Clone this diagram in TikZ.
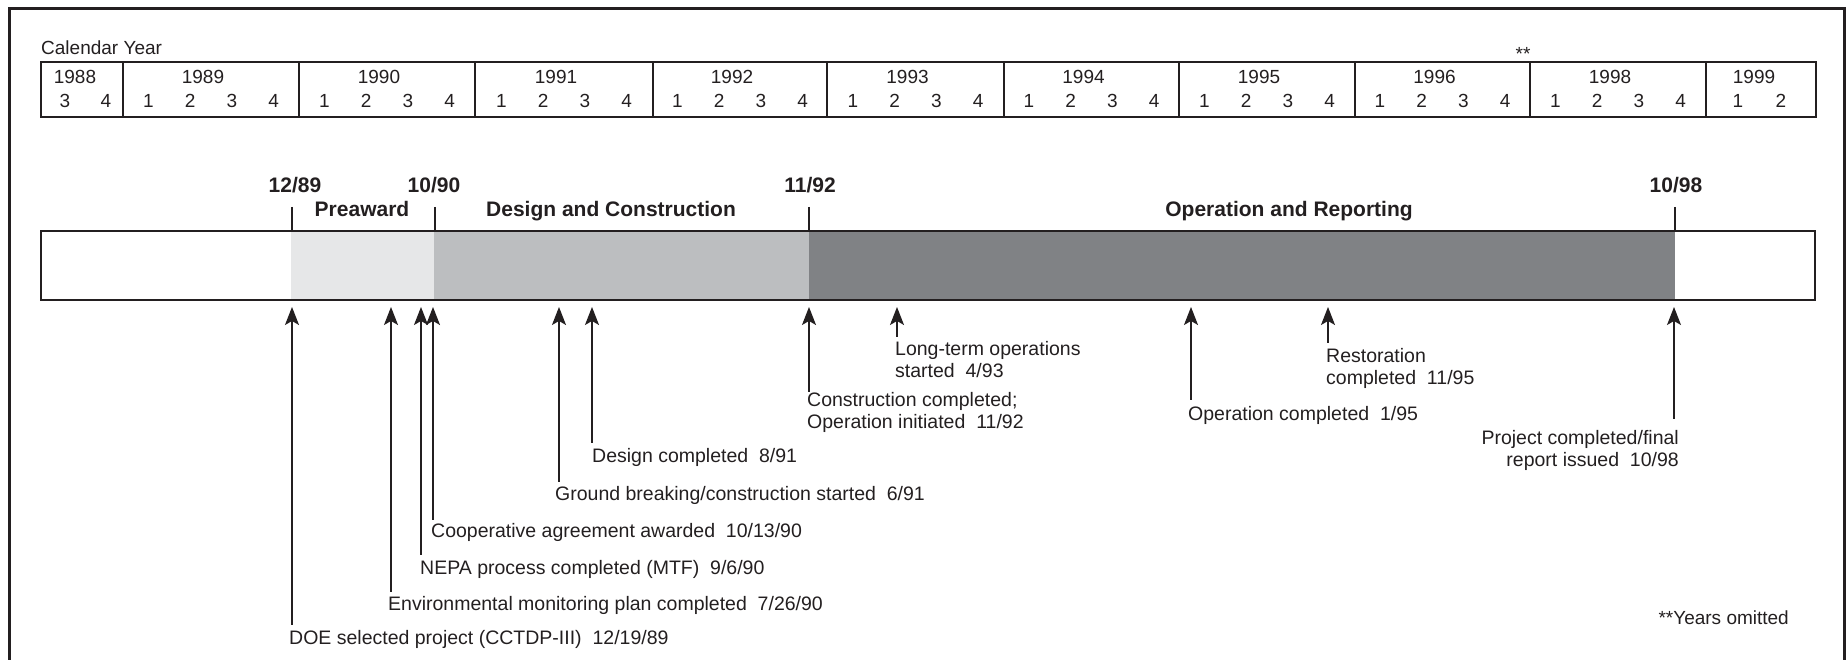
\documentclass[tikz,border=0pt]{standalone}
\usepackage{fontspec}
\setmainfont{Liberation Sans}
\usetikzlibrary{arrows.meta}

\definecolor{ink}{HTML}{231F20}
\definecolor{phaseA}{HTML}{E6E7E8}
\definecolor{phaseB}{HTML}{BCBEC0}
\definecolor{phaseC}{HTML}{808285}

\tikzset{
  txt/.style={inner sep=0pt, text=ink, font=\fontsize{19}{21.5}\selectfont},
  evtxt/.style={inner sep=0pt, text=ink, font=\fontsize{19.5}{21.5}\selectfont},
  boldlbl/.style={inner sep=0pt, text=ink, font=\fontsize{21}{24}\selectfont\bfseries, anchor=base},
  gridline/.style={draw=ink, line width=1.4pt},
  tickline/.style={draw=ink, line width=1.2pt},
  evarrow/.style={draw=ink, line width=1.2pt, {Stealth[length=18pt,width=14pt,inset=4pt]}-},
}

\begin{document}
\begin{tikzpicture}[x=1pt,y=-1pt]
\useasboundingbox (0,0) rectangle (1847,660);

% outer frame (bottom edge lies below the page)
\draw[ink, line width=3pt] (9,9) rectangle (1844,690);

% ---------------- calendar strip ----------------
\node[txt, anchor=base west] (cal) at (41,55) {Calendar Year};
\node[txt, anchor=base] (omit) at (1523,61) {**};

\draw[gridline] (41,62) rectangle (1816,117);
\foreach \x in {123,299,475,653,827,1004,1179,1355,1530,1706}
  \draw[gridline] (\x,62) -- (\x,117);

% year headings and quarters
\node[txt, anchor=base] (y1988) at (75,84) {1988};
\foreach \yr/\cx in {1989/211,1990/387,1991/564,1992/740,1993/915.5,1994/1091.5,1995/1267,1996/1442.5,1998/1618}{
  \node[txt, anchor=base] (y\yr) at (\cx-8,84) {\yr};
  \foreach \q in {1,2,3,4}
    \node[txt, anchor=base] (q\yr-\q) at ({\cx+41.7*(\q-2.5)},108) {\q};
}
\node[txt, anchor=base] (y1999) at (1754,84) {1999};
\node[txt, anchor=base] (q1988-3) at (65,108) {3};
\node[txt, anchor=base] (q1988-4) at (106,108) {4};
\node[txt, anchor=base] (q1999-1) at (1738,108) {1};
\node[txt, anchor=base] (q1999-2) at (1781,108) {2};

% ---------------- phase bar ----------------
\fill[phaseA] (291,231) rectangle (434,300);
\fill[phaseB] (434,231) rectangle (809,300);
\fill[phaseC] (809,231) rectangle (1675,300);
\draw[ink, line width=2.5pt] (41,231) rectangle (1815,300);

\node[boldlbl] (d1) at (295,192.5) {12/89};
\node[boldlbl] (d2) at (434,192.5) {10/90};
\node[boldlbl] (d3) at (810,192.5) {11/92};
\node[boldlbl] (d4) at (1676,192.5) {10/98};

\node[boldlbl] (p1) at (362,216.5) {Preaward};
\node[boldlbl] (p2) at (611,216.5) {Design and Construction};
\node[boldlbl] (p3) at (1289,216.5) {Operation and Reporting};

\foreach \i/\x in {1/292,2/435,3/809,4/1675}{
  \coordinate (m\i a) at (\x,207);
  \coordinate (m\i b) at (\x,231);
  \draw[tickline] (m\i a) -- (m\i b);
}

% ---------------- milestones ----------------
\node[evtxt, anchor=base west] (e1) at (289,644) {DOE selected project (CCTDP-III)~~12/19/89};
\node[evtxt, anchor=base west] (e2) at (388,610) {Environmental monitoring plan completed~~7/26/90};
\node[evtxt, anchor=base west] (e3) at (420,574) {NEPA process completed (MTF)~~9/6/90};
\node[evtxt, anchor=base west] (e4) at (431,537) {Cooperative agreement awarded~~10/13/90};
\node[evtxt, anchor=base west] (e5) at (555,500) {Ground breaking/construction started~~6/91};
\node[evtxt, anchor=base west] (e6) at (592,462) {Design completed~~8/91};
\node[evtxt, anchor=base west, align=left] (e7) at (807,428) {Construction completed;\\Operation initiated~~11/92};
\node[evtxt, anchor=base west, align=left] (e8) at (895,377) {Long-term operations\\started~~4/93};
\node[evtxt, anchor=base west] (e9) at (1188,420) {Operation completed~~1/95};
\node[evtxt, anchor=base west, align=left] (e10) at (1326,384) {Restoration\\completed~~11/95};
\node[evtxt, anchor=base east, align=right] (e11) at (1679,466) {Project completed/final\\report issued~~10/98};

\foreach \i/\x/\yb in {1/292/625,2/391/592,3/421/555,4/433/520,5/559/482,6/592/443,
                        7/809/392,8/897/337,9/1191/400,10/1328/343,11/1674/419}{
  \coordinate (t\i) at (\x,307);
  \coordinate (b\i) at (\x,\yb);
  \draw[evarrow] (t\i) -- (b\i);
}

\node[txt, anchor=base east] (note) at (1789,624) {**Years omitted};

\end{tikzpicture}
\end{document}
